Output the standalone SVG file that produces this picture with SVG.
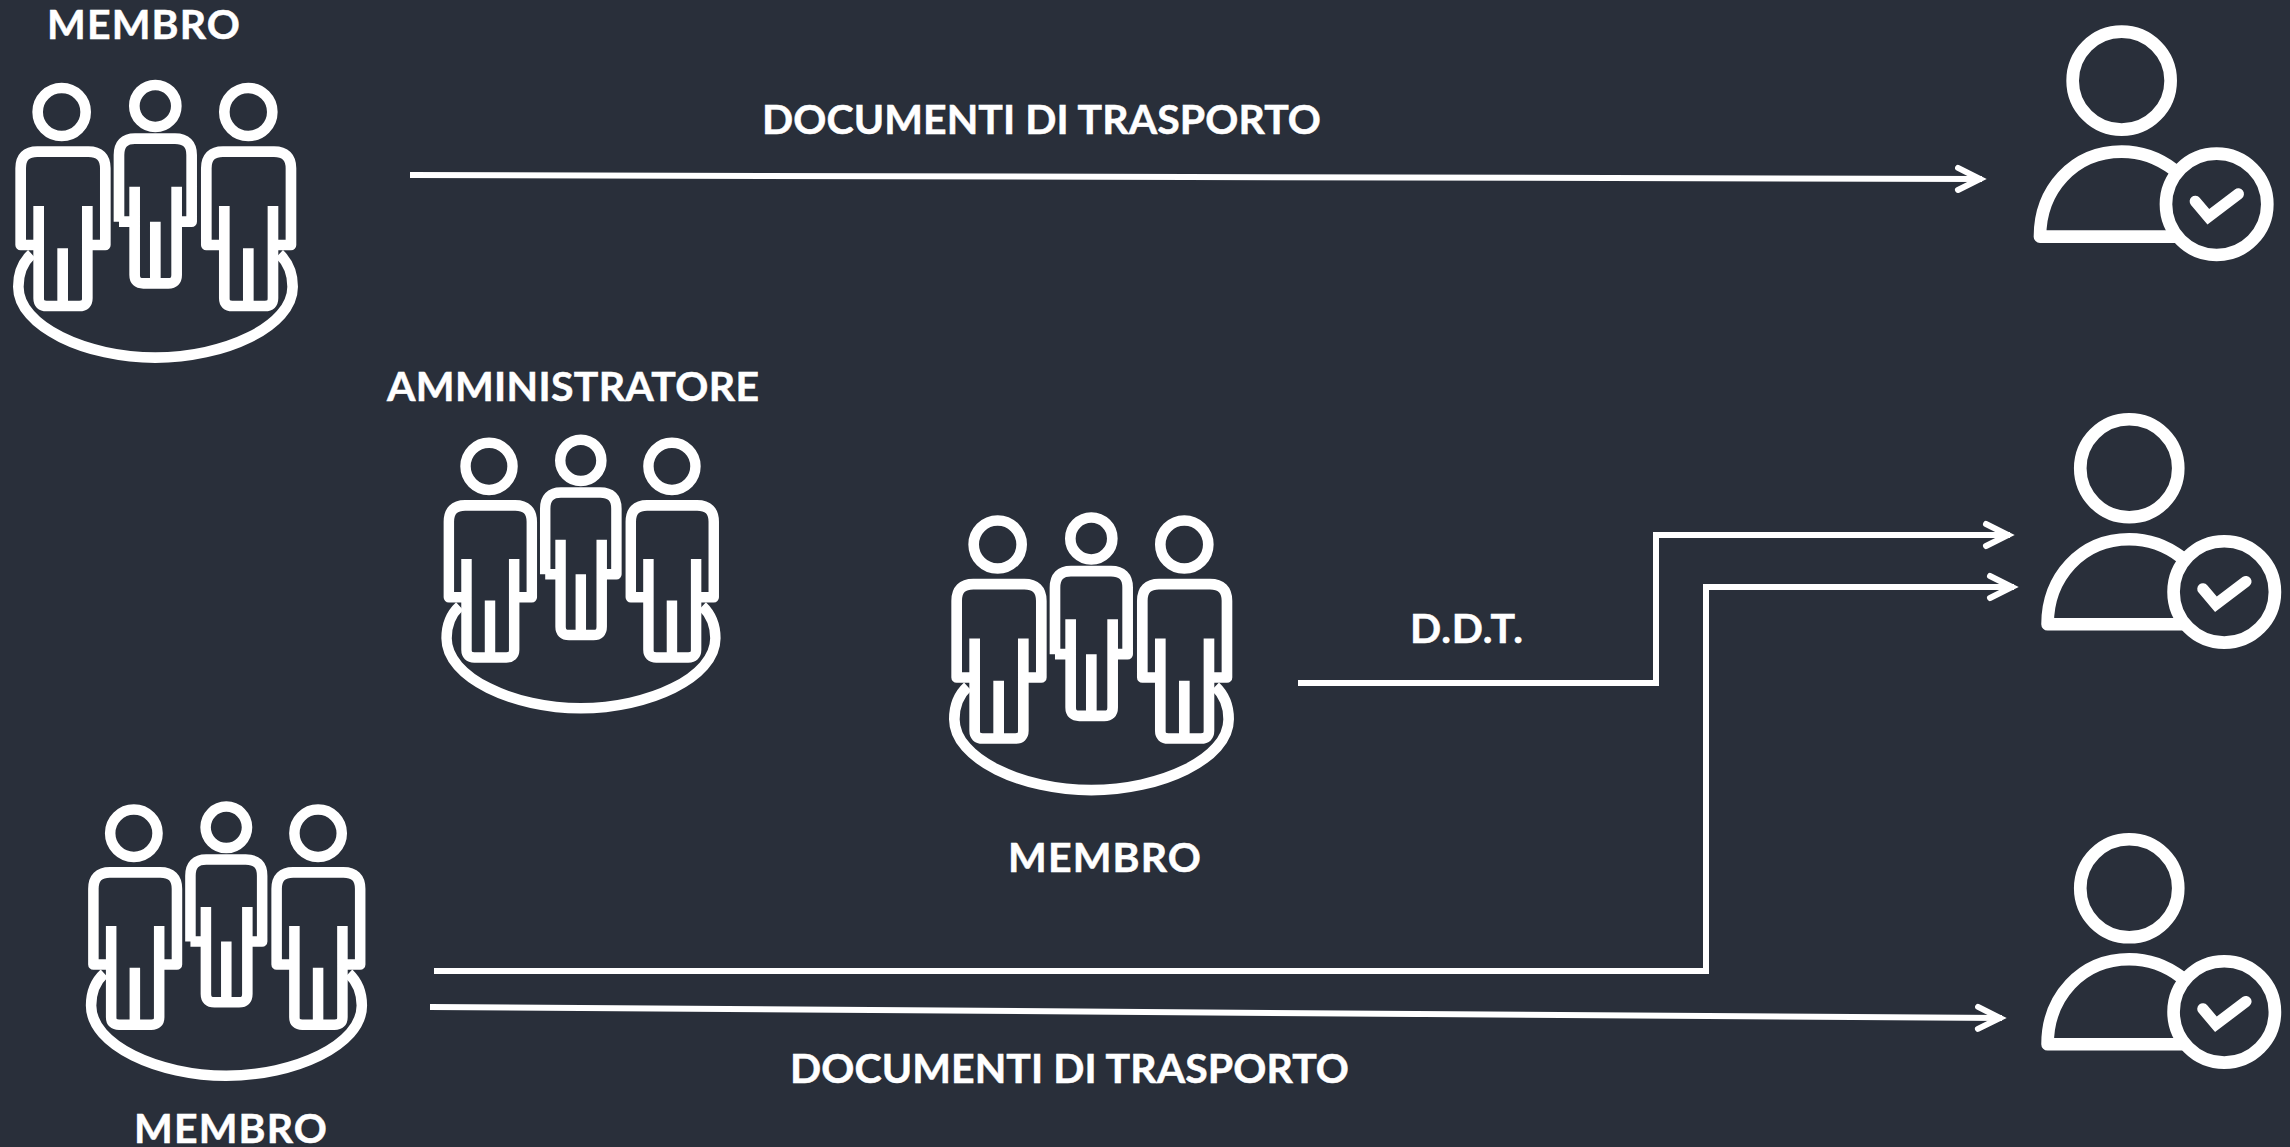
<svg xmlns="http://www.w3.org/2000/svg" width="2290" height="1147" viewBox="0 0 2290 1147">
<style>
text{font-family:"Lato","Liberation Sans",sans-serif;font-weight:700;font-size:41px;fill:#fff;stroke:#fff;stroke-width:.5}
.o{fill:none;stroke:#fff;stroke-linejoin:round}
.c{fill:none;stroke:#fff;stroke-width:6;stroke-linejoin:miter}
</style>
<defs>
<marker id="a" markerUnits="userSpaceOnUse" markerWidth="40" markerHeight="40" refX="27" refY="15" orient="auto" overflow="visible"><path d="M3 4 L25 15 L3 26" fill="none" stroke="#fff" stroke-width="6" stroke-linecap="round" stroke-linejoin="miter"/></marker>
<g id="team" class="o">
<g transform="scale(.3333)" stroke-width="32">
<circle cx="185" cy="336" r="72"/><circle cx="466" cy="318" r="63"/><circle cx="745" cy="336" r="72"/>
<path id="f" d="M116 735H62V505Q62 455 112 455H265Q316 455 316 505V735H262M116 618V895Q116 918 140 918H238Q262 918 262 895V618M188 745V918"/>
<use href="#f" x="557"/>
<path d="M357 665H404M404 560V825Q404 850 430 850H505Q530 850 530 825V560M530 665H575V465Q575 416 525 416H405Q357 416 357 465V665M466 665V850"/>
<path d="M95 762C70 785 55 815 55 860C55 980 260 1073 466 1073C672 1073 878 980 878 860C878 815 862 785 838 762"/>
</g></g>
<g id="user" class="o">
<g transform="scale(.3333)" stroke-width="38">
<circle cx="485" cy="212" r="147"/>
<path d="M640 478Q570 425 485 425C340 425 240 540 240 680H650"/>
<circle cx="770" cy="583" r="152"/>
<path d="M706 574L745 620L835 552" stroke-width="34" stroke-linecap="round" stroke-linejoin="miter"/>
</g></g>
</defs>
<rect width="2290" height="1147" fill="#292f3a"/>
<g id="connectors">
<path class="c" d="M410 175L1982 179" marker-end="url(#a)"/>
<path class="c" d="M1298 683H1656V535H2010" marker-end="url(#a)"/>
<path class="c" d="M434 971H1706V587H2014" marker-end="url(#a)"/>
<path class="c" d="M430 1007L2002 1018" marker-end="url(#a)"/>
</g>
<g id="team1"><use href="#team"/><text x="47" y="39" textLength="193">MEMBRO</text></g>
<g id="team2"><use href="#team" transform="translate(428.6 356) scale(.98 .985)"/><text x="387" y="401" textLength="372">AMMINISTRATORE</text></g>
<g id="team3"><use href="#team" x="936" y="432.5"/><text x="1008" y="872" textLength="193">MEMBRO</text></g>
<g id="team4"><use href="#team" transform="translate(73 722.7) scale(.987)"/><text x="134" y="1143" textLength="193">MEMBRO</text></g>
<g id="user1"><use href="#user" x="1960" y="10"/></g>
<g id="user2"><use href="#user" x="1967.6" y="397.6"/></g>
<g id="user3"><use href="#user" x="1967.6" y="817.6"/></g>
<g id="labels">
<text x="762" y="134" textLength="559">DOCUMENTI DI TRASPORTO</text>
<text x="1410" y="643" textLength="113">D.D.T.</text>
<text x="790" y="1083" textLength="559">DOCUMENTI DI TRASPORTO</text>
</g>
</svg>
